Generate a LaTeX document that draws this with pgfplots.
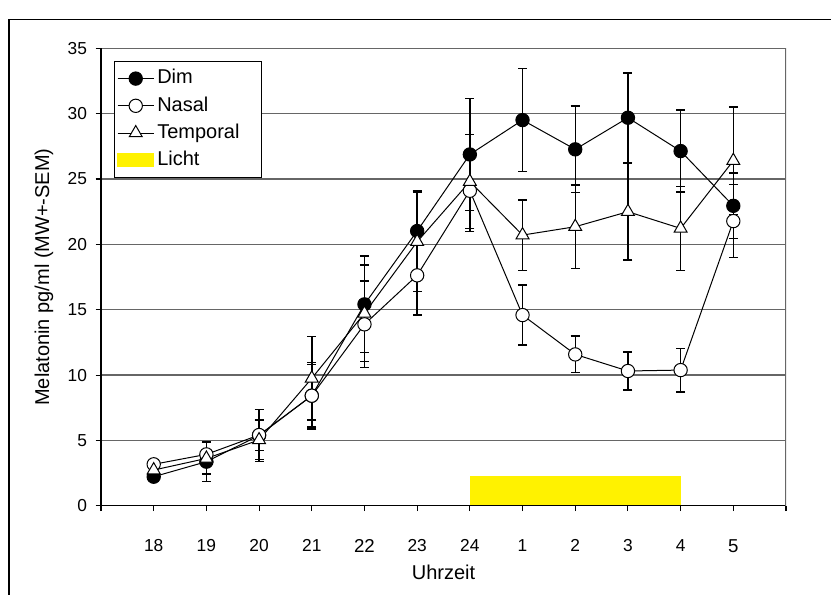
\documentclass[border=0pt]{standalone}
\usepackage{pgfplots}
\pgfplotsset{compat=1.18}
\usepackage{pgfplotstable}
\usepackage{fontspec}
\setmainfont{Liberation Sans}
\pgfplotstableread{
x y e
0 2.22 0
1 3.37 1.5
2 5.38 2.0
3 8.42 2.4
4 15.41 3.7
5 21.02 3.06
6 26.88 4.3
7 29.51 3.95
8 27.27 3.3
9 29.69 3.44
10 27.14 3.14
11 22.95 2.5
}\dimdata
\pgfplotstableread{
x y e
0 3.17 0
1 3.93 0.9
2 5.41 1.2
3 8.42 2.55
4 13.88 3.3
5 17.63 3.04
6 24.1 3.13
7 14.59 2.3
8 11.58 1.4
9 10.31 1.45
10 10.38 1.66
11 21.78 2.8
}\nasaldata
\pgfplotstableread{
x y e
0 2.73 0
1 3.62 1.2
2 5.03 1.5
3 9.75 3.2
4 14.72 3.7
5 20.2 3.8
6 24.8 3.6
7 20.71 2.7
8 21.35 3.2
9 22.5 3.7
10 21.22 3.2
11 26.4 4.1
}\tempdata
\begin{document}
\begin{tikzpicture}
\path[use as bounding box] (0,0) rectangle (623.25pt,445.5pt);
\draw[line width=1.2pt] (6.75pt,-20pt) -- (6.75pt,431pt) -- (650pt,431pt);
\begin{axis}[
  at={(75.75pt,66.2pt)}, anchor=south west,
  scale only axis, width=513.75pt, height=343.05pt,
  xmin=-1, xmax=12, ymin=0, ymax=35,
  xtick={-1,...,12},
  xticklabels={{},18,19,20,21,{\fontsize{14}{16}\selectfont\raisebox{-3pt}{22}},23,24,1,2,3,4,{\fontsize{14}{16}\selectfont\raisebox{-3pt}{5}},{}},
  ytick={0,5,...,35},
  axis lines*=left,
  axis line style={-, line width=1.1pt, black},
  tick align=outside,
  major tick length=4pt,
  tick style={line width=0.8pt, black},
  ymajorgrids,
  grid style={black!60, line width=1pt},
  /pgf/number format/assume math mode=true,
  tick label style={font=\fontsize{13}{15}\selectfont},
  xticklabel style={yshift=-18pt},
  yticklabel style={xshift=-3pt},
  xlabel={Uhrzeit},
  ylabel={Melatonin pg/ml (MW+-SEM)},
  label style={font=\fontsize{15}{17}\selectfont},
  xlabel style={at={(axis description cs:0.5,-0.145)}, anchor=center},
  ylabel style={at={(axis description cs:-0.0832,0.5)}, anchor=center, rotate=0},
  legend style={at={(axis description cs:0.019,0.972)}, anchor=north west,
    draw=black, line width=0.8pt, font=\fontsize{15}{17}\selectfont,
    inner xsep=2pt, inner ysep=2.5pt, row sep=0pt,
    nodes={inner xsep=2.25pt, inner ysep=2.7pt, text height=11.5pt, text depth=3.5pt}},
  legend cell align=left,
  legend image code/.code={\draw[mark repeat=2,mark phase=2,#1] plot coordinates {(0pt,0pt) (13.5pt,0pt) (27pt,0pt)};},
  error bars/y dir=both,
  error bars/y explicit,
  error bars/error bar style={line width=1.1pt, black},
  error bars/error mark options={rotate=90, mark size=3.4pt, line width=1.1pt, black},
]
\addplot[fill=yellow, draw=none, forget plot] coordinates {(6,0.05) (6,2.25) (10,2.25) (10,0.05)};
\draw[black!60, line width=1pt] (rel axis cs:1,0) -- (rel axis cs:1,1);
\addplot[black, line width=0.75pt, mark=*, mark size=5pt, mark options={fill=black}]
  table[x=x, y=y, y error=e] {\dimdata};
\addlegendentry{Dim}
\addplot[black, line width=0.75pt, mark=*, mark size=5pt, mark options={fill=white, line width=0.75pt}]
  table[x=x, y=y, y error=e] {\nasaldata};
\addlegendentry{Nasal}
\addplot[black, line width=0.75pt, mark=triangle*, mark size=5.6pt, mark options={fill=white, line width=0.75pt}]
  table[x=x, y=y, y error=e] {\tempdata};
\addlegendentry{Temporal\rule{12pt}{0pt}}
\addlegendimage{legend image code/.code={\fill[yellow] (0pt,-5pt) rectangle (27pt,5pt);}}
\addlegendentry{Licht}
\end{axis}
\end{tikzpicture}
\end{document}
